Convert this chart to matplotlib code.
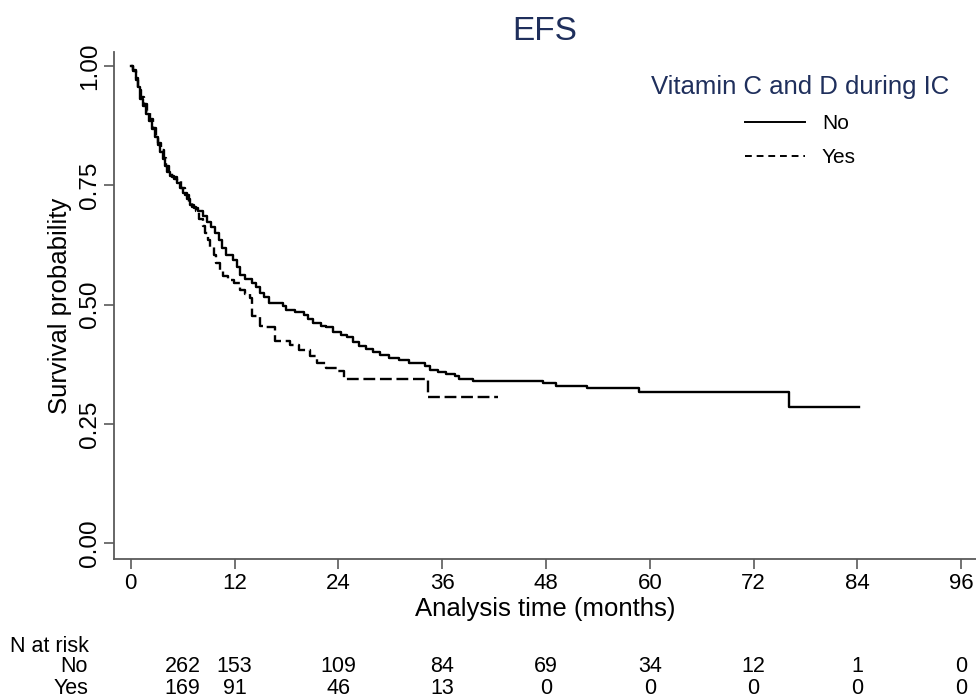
import numpy as np
import matplotlib.pyplot as plt
from matplotlib.lines import Line2D
from matplotlib import transforms

plt.rcParams['font.family'] = ['Liberation Sans', 'DejaVu Sans']

# Kaplan-Meier estimates, EFS by vitamin C and D during IC
t_no = [0, 0.3, 0.6, 0.9, 1.1, 1.4, 1.8, 2.1, 2.5, 2.8, 3.1, 3.4, 3.7, 4.0, 4.2,
        4.6, 5.0, 5.4, 5.7, 6.1, 6.5, 6.8, 7.3, 7.8, 8.3, 8.8, 9.3, 9.8, 10.2,
        10.6, 11.0, 11.8, 12.3, 12.6, 13.2, 14.0, 14.5, 15.0, 15.4, 16.0, 17.6,
        18.0, 19.0, 20.0, 20.5, 21.1, 22.0, 22.6, 23.4, 24.3, 25.0, 25.7, 26.4,
        27.2, 28.0, 28.8, 29.9, 31.0, 32.2, 34.0, 34.6, 35.5, 36.5, 37.5, 38.0,
        39.6, 47.6, 49.2, 52.7, 58.8, 76.1, 84.2]
s_no = [1.0, 0.99, 0.975, 0.955, 0.93, 0.915, 0.90, 0.885, 0.868, 0.85, 0.835,
        0.82, 0.805, 0.79, 0.778, 0.77, 0.762, 0.755, 0.745, 0.733, 0.722, 0.708,
        0.702, 0.696, 0.686, 0.672, 0.662, 0.650, 0.635, 0.618, 0.604, 0.594,
        0.578, 0.562, 0.553, 0.545, 0.537, 0.525, 0.515, 0.503, 0.496, 0.489,
        0.485, 0.478, 0.470, 0.462, 0.456, 0.452, 0.443, 0.437, 0.432, 0.422,
        0.414, 0.406, 0.400, 0.394, 0.388, 0.383, 0.378, 0.372, 0.362, 0.358,
        0.355, 0.350, 0.345, 0.340, 0.335, 0.330, 0.325, 0.316, 0.285, 0.285]

t_yes = [0, 0.3, 0.6, 0.9, 1.2, 1.5, 1.9, 2.2, 2.6, 2.9, 3.2, 3.5, 3.8, 4.1, 4.4,
         4.8, 5.3, 5.8, 6.3, 6.7, 7.1, 7.6, 7.9, 8.3, 8.6, 8.9, 9.2, 9.6, 9.9,
         10.3, 10.7, 11.3, 11.9, 12.6, 13.2, 13.8, 14.0, 14.9, 15.5, 16.7, 18.4,
         19.5, 20.7, 21.5, 22.6, 23.8, 24.7, 34.4, 42.4]
s_yes = [1.0, 0.992, 0.97, 0.95, 0.935, 0.92, 0.905, 0.888, 0.87, 0.852, 0.838,
         0.824, 0.808, 0.79, 0.775, 0.768, 0.758, 0.745, 0.73, 0.715, 0.705,
         0.695, 0.68, 0.665, 0.650, 0.636, 0.621, 0.603, 0.587, 0.572, 0.559,
         0.552, 0.546, 0.531, 0.522, 0.514, 0.475, 0.456, 0.452, 0.423, 0.415,
         0.405, 0.392, 0.378, 0.368, 0.360, 0.344, 0.306, 0.306]

risk_times = [0, 12, 24, 36, 48, 60, 72, 84, 96]
risk_no = [262, 153, 109, 84, 69, 34, 12, 1, 0]
risk_yes = [169, 91, 46, 13, 0, 0, 0, 0, 0]

navy = '#1f2f5c'
gray = '#5a5a5a'

fig = plt.figure(figsize=(9.76, 6.99), dpi=100)
ax = fig.add_axes([114 / 976, 140 / 699, 1 - 114 / 976, 507 / 699])

ax.step(t_no, s_no, where='post', color='black', lw=1.7)
ax.step(t_yes, s_yes, where='post', color='black', lw=1.7, linestyle=(0, (5.0, 2.0)))

ax.set_xlim(-1.93, 97.7)
ax.set_ylim(-0.033, 1.029)
ax.set_xticks(risk_times)
ax.set_yticks([0, 0.25, 0.5, 0.75, 1.0])
ax.set_yticklabels(['0.00', '0.25', '0.50', '0.75', '1.00'], rotation=90, va='center')
ax.tick_params(direction='out', length=7.2, width=1.2, color=gray)
ax.tick_params(axis='x', labelsize=16, pad=3)
ax.tick_params(axis='y', labelsize=17.5, pad=2)

for side in ['top', 'right']:
    ax.spines[side].set_visible(False)
for side in ['left', 'bottom']:
    ax.spines[side].set_color(gray)
    ax.spines[side].set_linewidth(1.3)

ax.set_title('EFS', fontsize=24, color=navy, pad=9)
ax.set_xlabel('Analysis time (months)', fontsize=18.5, va='top')
ax.set_ylabel('Survival probability', fontsize=18.5)
# pin axis titles just outside the tick labels
ax.xaxis.set_label_coords(0.5, (559 - 597) / 507)
ax.yaxis.set_label_coords((72 - 114) / 862, 0.5)

handles = [Line2D([], [], color='black', lw=1.4),
           Line2D([], [], color='black', lw=1.4, linestyle=(0, (3.5, 2.5)))]
leg = ax.legend(handles, ['No', 'Yes'], title='Vitamin C and D during IC',
                loc='upper right', bbox_to_anchor=(960 / 976, 1 - 65 / 699),
                bbox_transform=fig.transFigure, frameon=False, fontsize=15,
                title_fontsize=18.5, handlelength=2.9, handletextpad=0.8,
                labelspacing=0.72, borderpad=0)
leg.get_title().set_color(navy)

# number at risk table under the axis
trans = transforms.blended_transform_factory(ax.transData, fig.transFigure)
fig.text(10 / 976, 1 - 646 / 699, 'N at risk', fontsize=15.5, va='center')
fig.text(88 / 976, 1 - 666 / 699, 'No', fontsize=15.5, va='center', ha='right')
fig.text(88 / 976, 1 - 689 / 699, 'Yes', fontsize=15.5, va='center', ha='right')
for i, (t, n1, n2) in enumerate(zip(risk_times, risk_no, risk_yes)):
    x = t + 6 if i == 0 else t
    ax.text(x, 1 - 666 / 699, str(n1), transform=trans, fontsize=15.5, ha='center', va='center')
    ax.text(x, 1 - 689 / 699, str(n2), transform=trans, fontsize=15.5, ha='center', va='center')

fig.savefig('out.png', dpi=100)
